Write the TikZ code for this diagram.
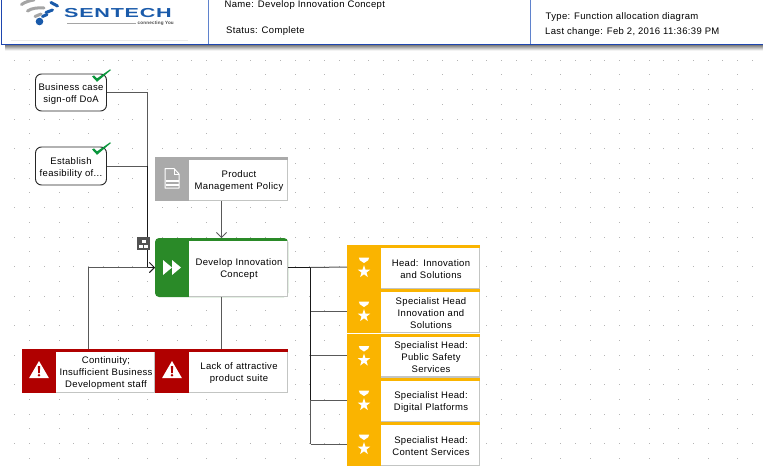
\documentclass[tikz,border=0pt]{standalone}
\usepackage{fontspec}
\setmainfont[LetterSpace=3.5]{Liberation Sans}
\usetikzlibrary{arrows.meta,calc}
\definecolor{funcgreen}{RGB}{42,138,40}
\definecolor{riskred}{RGB}{176,0,0}
\definecolor{orgamber}{RGB}{250,180,0}
\definecolor{docgray}{RGB}{170,170,170}
\definecolor{headblue}{RGB}{30,70,175}
\definecolor{divblue}{RGB}{95,130,205}
\definecolor{logoblue}{RGB}{25,90,170}
\definecolor{logogray}{RGB}{165,165,165}
\definecolor{checkgreen}{RGB}{10,150,60}
\definecolor{edgegray}{RGB}{195,197,195}
\definecolor{dotgray}{RGB}{180,180,180}
\tikzset{
  txt/.style={font=\fontsize{9.5}{12}\selectfont,align=center,text=black,inner sep=0pt},
  headtxt/.style={font=\fontsize{9.5}{12}\selectfont,anchor=west,text=black,inner sep=0pt},
  hull/.style={minimum width=133pt,inner sep=0pt,outer sep=0pt,fill=white,draw=none},
  evbox/.style={draw=black!85,line width=0.9pt,rounded corners=6pt,fill=white,minimum width=71pt,inner sep=0pt,outer sep=0pt},
  link/.style={draw=black!65,line width=1pt},
  trunk/.style={draw=black!90,line width=1pt},
  arrowed/.style={-{Straight Barb[length=5pt,width=10pt,line width=0.8pt]}},
  wifi/.style={line width=3pt,line cap=round},
  staricon/.pic={
    \fill[white] (-5.2,-9.5) -- (5.2,-9.5) -- (4.2,-6.8) -- (0,-4) -- (-4.2,-6.8) -- cycle;
    \fill[white] (0,-1.8) -- (1.5,2.6) -- (6.2,2.7) -- (2.5,5.5) -- (3.8,10) -- (0,7.3) -- (-3.8,10) -- (-2.5,5.5) -- (-6.2,2.7) -- (-1.5,2.6) -- cycle;
  },
  warnicon/.pic={
    \fill[white] (0,-10) -- (10,7.2) -- (-10,7.2) -- cycle;
    \fill[riskred] (-1.2,-5) -- (1.2,-5) -- (0.8,2) -- (-0.8,2) -- cycle;
    \fill[riskred] (0,4.3) circle (1.4);
  },
  docicon/.pic={
    \draw[white,line width=1pt,line join=round] (-7,-10.5) -- (2,-10.5) -- (7,-5) -- (7,9) -- (-7,9) -- cycle;
    \draw[white,line width=1pt] (2,-10.5) -- (2,-5) -- (7,-5);
    \fill[white] (-6.5,1) rectangle (6.5,3);
    \fill[white] (-6.5,5.3) rectangle (6.5,7.3);
  },
  runicon/.pic={
    \fill[white] (-9,-7.5) -- (0,0) -- (-9,7.5) -- cycle;
    \fill[white] (0,-7.5) -- (9,0) -- (0,7.5) -- cycle;
  },
  checkicon/.pic={
    \fill[checkgreen] (-7.5,1) -- (-5.5,0) -- (-2.5,3) -- (10.5,-6) -- (11.5,-5.4) -- (-2.5,6.4) -- cycle;
  }
}
\newcommand{\flowbox}[7]{%
  \node[hull,minimum height=#4pt] (#1) at (#2,#3) {};
  \fill[edgegray] ($(#1.north east)+(-1.5,0)$) rectangle ($(#1.south east)$);
  \fill[edgegray] ($(#1.south west)+(0,-1.5)$) rectangle ($(#1.south east)$);
  \fill[#5] (#1.north west) rectangle ($(#1.north east)+(0,3)$);
  \fill[#5] (#1.north west) rectangle ($(#1.south west)+(34,0)$);
  \path ($(#1.west)+(17,0)$) pic {#7};
  \node[txt,text width=93pt] (#1t) at ($(#1.center)+(17.5,1.8)$) {#6};
}
\begin{document}
\begin{tikzpicture}[x=1pt,y=-1pt]
\useasboundingbox (0,0) rectangle (763,466);
\fill[white] (0,0) rectangle (763,466);
% dotted sheet grid
\foreach \j in {0,...,28}{
  \pgfmathtruncatemacro{\odd}{mod(\j,2)}
  \foreach \i in {1,...,51}{
    \pgfmathtruncatemacro{\oddi}{mod(\i,2)}
    \ifnum\odd=0 \ifnum\oddi=0
      \fill[dotgray] ({14.75*\i-0.5},{45.25+14.75*\j-0.5}) rectangle ++(1,1);
    \fi\else
      \fill[dotgray] ({14.75*\i-0.5},{45.25+14.75*\j-0.5}) rectangle ++(1,1);
    \fi
  }
}
% header
\shade[top color=black!55,bottom color=white] (5,44.5) rectangle (763,50.5);
\fill[white] (0,0) rectangle (763,44);
\fill[black!8] (11,40) rectangle (188,40.8);
\draw[headblue,line width=1pt] (1,0) -- (1,44) -- (763,44);
\draw[divblue,line width=1pt] (208.5,0) -- (208.5,44);
\draw[divblue,line width=1pt] (530.5,0) -- (530.5,44);
% logo
\fill[logoblue] (39.5,21.5) circle (3.8);
\draw[wifi,logogray] (35,16.5) -- (41,14);
\draw[wifi,logoblue] (42.5,16.5) -- (47,14.5);
\draw[wifi,logogray] (27.5,11) .. controls (32,8) and (38,7.5) .. (44,8);
\draw[wifi,logoblue] (46,12.5) -- (52.5,10);
\draw[wifi,logogray] (21.5,4.5) .. controls (25,2) and (30,0.5) .. (34,0);
\draw[wifi,logoblue] (51,2.5) -- (57.5,6);
\node[inner sep=0pt,text=logoblue,font=\fontsize{13}{13}\selectfont\bfseries] (brand) at (118,13.3) {\scalebox{1.66}[1]{SENTECH}};
\fill[logogray] (67,22.8) rectangle (136,23.8);
\node[inner sep=0pt,anchor=west,text=black!70,font=\fontsize{4.6}{5}\selectfont\bfseries] (tag) at (137.5,23.5) {connecting You};
\node[headtxt] (hname) at (224.5,5.5) {Name: Develop Innovation Concept};
\node[headtxt] (hstat) at (226,31.5) {Status: Complete};
\node[headtxt] (htype) at (545.5,17.5) {Type: Function allocation diagram};
\node[headtxt] (hlast) at (545,32.5) {Last change: Feb 2, 2016 11:36:39 PM};
% connector junctions
\coordinate (jl) at (147.5,267.5);
\coordinate (jr) at (310.5,267.5);
% boxes
\node[evbox,minimum height=37pt] (ev1) at (71,92.5) {};
\node[txt] (ev1t) at (71,94) {Business case\\sign-off DoA};
\node[evbox,minimum height=38pt] (ev2) at (71,166) {};
\node[txt] (ev2t) at (71,168) {Establish\\feasibility of...};
\path (ev1.north east) ++(-7,1.4) pic {checkicon};
\path (ev2.north east) ++(-7,1.4) pic {checkicon};
\flowbox{doc}{221.5}{179}{44}{docgray}{Product\\Management Policy}{docicon}
% the function box has rounded corners, so it is built on its own
\node[hull,fill=none,minimum height=59pt] (fn) at (221.5,267.5) {};
\fill[funcgreen,rounded corners=4pt] (fn.north west) rectangle (fn.south east);
\fill[edgegray] ($(fn.north west)+(34,3)$) rectangle (fn.south east);
\fill[white] ($(fn.north west)+(34,3)$) rectangle ($(fn.south east)+(-1.5,-1.5)$);
\path ($(fn.west)+(17,0)$) pic {runicon};
\node[txt,text width=93pt] (fnt) at ($(fn.center)+(17.5,1.3)$) {Develop Innovation\\Concept};
\flowbox{ra}{88.5}{371}{44}{riskred}{Continuity;\\Insufficient Business\\Development staff}{warnicon}
\flowbox{rb}{221.5}{371}{44}{riskred}{Lack of attractive\\product suite}{warnicon}
\flowbox{oa}{413.5}{267}{44}{orgamber}{Head: Innovation\\and Solutions}{staricon}
\flowbox{ob}{413.5}{311}{44}{orgamber}{Specialist Head\\Innovation and\\Solutions}{staricon}
\flowbox{oc}{413.5}{355.5}{44}{orgamber}{Specialist Head:\\Public Safety\\Services}{staricon}
\flowbox{od}{413.5}{400}{44}{orgamber}{Specialist Head:\\Digital Platforms}{staricon}
\flowbox{oe}{413.5}{444}{44}{orgamber}{Specialist Head:\\Content Services}{staricon}
% connectors
\draw[link] (ev1.east) -| (jl);
\draw[link] (ev2.east) -| (jl);
\draw[trunk] (ev2.east -| jl) -- (jl);
\draw[link,arrowed] (ra.north) |- (fn.west);
\draw[trunk,arrowed] (jl) -- (fn.west);
\draw[link,arrowed] (doc.south) -- (fn.north);
\draw[link] (fn.south) -- (rb.north);
\draw[trunk] (fn.east) -- (jr);
\draw[link] (jr) -- (oa.west);
\draw[link] (jr |- ob.west) -- (ob.west);
\draw[link] (jr |- oc.west) -- (oc.west);
\draw[link] (jr |- od.west) -- (od.west);
\draw[link] (jr |- oe.west) -- (oe.west);
\draw[trunk] (jr) -- (jr |- od.west);
\draw[link] (jr |- od.west) -- (jr |- oe.west);
% hierarchy badge
\node[fill=black!68,minimum size=13pt,inner sep=0pt] (badge) at (143.5,243.7) {};
\fill[white] ($(badge)+(-2,-4)$) rectangle ++(4,3);
\fill[white] ($(badge)+(-4.5,1.2)$) rectangle ++(4,3);
\fill[white] ($(badge)+(0.8,1.2)$) rectangle ++(4,3);
\end{tikzpicture}
\end{document}
